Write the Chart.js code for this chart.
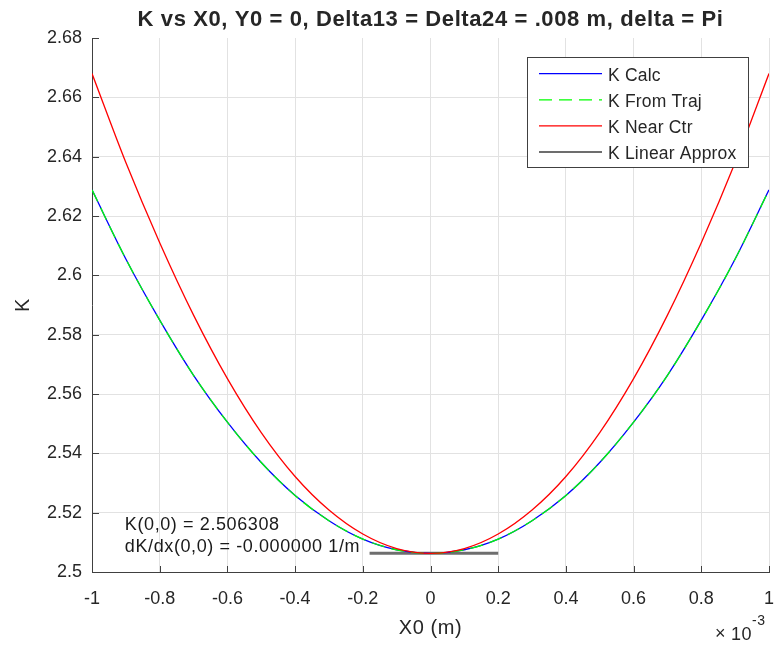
<!DOCTYPE html>
<html>
<head>
<meta charset="utf-8">
<script src="https://cdn.jsdelivr.net/npm/chart.js@4/dist/chart.umd.min.js"></script>
<style>
html,body{margin:0;padding:0;background:#fff;}
#wrap{width:774px;height:646px;position:relative;}
canvas{display:block;}
</style>
</head>
<body>
<div id="wrap"><canvas id="c" width="774" height="646"></canvas></div>
<script>
// X0 in units of 1e-3 m
const xValues = [-1.0,-0.9,-0.8,-0.7,-0.6,-0.5,-0.4,-0.3,-0.2,-0.1,0.0,0.1,0.2,0.3,0.4,0.5,0.6,0.7,0.8,0.9,1.0];
const kCalc = [2.6288,2.6055,2.5849,2.5663,2.5505,2.5369,2.5258,2.5173,2.5111,2.5075,2.5063,2.5075,2.5111,2.5173,2.5258,2.5369,2.5505,2.5663,2.5849,2.6055,2.6288];
const kFromTraj = [2.6288,2.6055,2.5849,2.5663,2.5505,2.5369,2.5258,2.5173,2.5111,2.5075,2.5063,2.5075,2.5111,2.5173,2.5258,2.5369,2.5505,2.5663,2.5849,2.6055,2.6288];
const kNearCtr = [2.6680,2.6380,2.6110,2.5866,2.5652,2.5470,2.5322,2.5209,2.5128,2.5079,2.5063,2.5079,2.5128,2.5209,2.5322,2.5470,2.5652,2.5866,2.6110,2.6380,2.6680];
const linX = [-0.18, 0.2];
const linK = [2.506308, 2.506308];
const seriesLabels = ['K Calc','K From Traj','K Near Ctr','K Linear Approx'];
const xTickValues = [-1,-0.8,-0.6,-0.4,-0.2,0,0.2,0.4,0.6,0.8,1];
const xTickLabels = ['-1','-0.8','-0.6','-0.4','-0.2','0','0.2','0.4','0.6','0.8','1'];
const yTickValues = [2.5,2.52,2.54,2.56,2.58,2.6,2.62,2.64,2.66,2.68];
const yTickLabels = ['2.5','2.52','2.54','2.56','2.58','2.6','2.62','2.64','2.66','2.68'];
const titleText = 'K vs X0, Y0 = 0, Delta13 = Delta24 = .008 m, delta = Pi';
const xAxisTitle = 'X0 (m)';
const yAxisTitle = 'K';
const noteLines = ['K(0,0) = 2.506308', 'dK/dx(0,0) = -0.000000 1/m'];

const FONT = "'Liberation Sans', Arial, sans-serif";
const AX = '#404040';
const TXT = '#262626';
const GRID = '#e2e2e2';

const pts = (xs, ys) => xs.map((x, i) => ({x: x, y: ys[i]}));

const legendColors = ['#0000ff', '#00ff00', '#ff0000', '#3c3c3c'];
const legendDash = [[], [13, 7], [], []];

const decor = {
  id: 'decor',
  beforeDraw(chart) {
    const ctx = chart.ctx;
    ctx.save();
    ctx.fillStyle = '#fff';
    ctx.fillRect(0, 0, chart.width, chart.height);
    ctx.restore();
  },
  beforeDatasetsDraw(chart) {
    const {ctx, chartArea: a, scales: {x, y}} = chart;
    ctx.save();
    ctx.strokeStyle = AX;
    ctx.lineWidth = 1;
    ctx.beginPath();
    xTickValues.forEach(v => {
      const px = Math.round(x.getPixelForValue(v)) + 0.5;
      ctx.moveTo(px, a.bottom);
      ctx.lineTo(px, a.bottom - 6);
    });
    yTickValues.forEach(v => {
      const py = Math.round(y.getPixelForValue(v)) + 0.5;
      ctx.moveTo(a.left, py);
      ctx.lineTo(a.left + 7, py);
    });
    ctx.stroke();
    ctx.restore();
  },
  afterDraw(chart) {
    const {ctx, chartArea: a, scales: {x, y}} = chart;
    ctx.save();
    ctx.fillStyle = TXT;
    try { ctx.letterSpacing = '0.6px'; } catch (e) {}
    // title
    ctx.font = 'bold 22px ' + FONT;
    ctx.textAlign = 'center';
    ctx.textBaseline = 'alphabetic';
    ctx.fillText(titleText, (a.left + a.right) / 2, 26);
    // x axis title
    ctx.font = '20px ' + FONT;
    ctx.fillText(xAxisTitle, (a.left + a.right) / 2, 634);
    // y axis title
    ctx.save();
    ctx.translate(29, (a.top + a.bottom) / 2);
    ctx.rotate(-Math.PI / 2);
    ctx.fillText(yAxisTitle, 0, 0);
    ctx.restore();
    // exponent
    ctx.textAlign = 'left';
    ctx.font = '18px ' + FONT;
    ctx.fillText('\u00d7', 715, 639);
    ctx.fillText('10', 731, 640);
    ctx.font = '14px ' + FONT;
    ctx.fillText('-3', 752, 625);
    // annotation text
    ctx.fillStyle = '#1a1a1a';
    ctx.font = '18px ' + FONT;
    ctx.fillText(noteLines[0], x.getPixelForValue(-0.9) - 1, 530);
    ctx.fillText(noteLines[1], x.getPixelForValue(-0.9) - 1, 551.5);
    // legend
    const lx = 527.5, ly = 57.5, lw = 221, lh = 110;
    ctx.fillStyle = '#fff';
    ctx.fillRect(lx, ly, lw, lh);
    ctx.strokeStyle = AX;
    ctx.lineWidth = 1;
    ctx.strokeRect(lx, ly, lw, lh);
    try { ctx.letterSpacing = '0.2px'; } catch (e) {}
    ctx.font = '17.5px ' + FONT;
    ctx.textAlign = 'left';
    chart.data.datasets.forEach((ds, i) => {
      const base = 80.7 + i * 26.1;
      const ry = base - 7;
      ctx.save();
      ctx.strokeStyle = legendColors[i];
      ctx.lineWidth = 1.3;
      ctx.setLineDash(legendDash[i]);
      ctx.beginPath();
      ctx.moveTo(539, ry);
      ctx.lineTo(602, ry);
      ctx.stroke();
      ctx.restore();
      ctx.fillStyle = TXT;
      ctx.fillText(ds.label, 608, base);
    });
    ctx.restore();
  }
};

new Chart(document.getElementById('c'), {
  type: 'line',
  data: {
    datasets: [
      {label: seriesLabels[0], data: pts(xValues, kCalc), borderColor: '#0000ff', borderWidth: 1.3, pointRadius: 0, cubicInterpolationMode: 'monotone', order: 4},
      {label: seriesLabels[1], data: pts(xValues, kFromTraj), borderColor: '#00ff00', borderWidth: 1.3, borderDash: [13, 7], pointRadius: 0, cubicInterpolationMode: 'monotone', order: 3},
      {label: seriesLabels[2], data: pts(xValues, kNearCtr), borderColor: '#ff0000', borderWidth: 1.3, pointRadius: 0, cubicInterpolationMode: 'monotone', order: 2},
      {label: seriesLabels[3], data: pts(linX, linK), borderColor: '#6e6e6e', borderWidth: 3, pointRadius: 0, order: 5}
    ]
  },
  options: {
    responsive: false,
    animation: false,
    devicePixelRatio: 1,
    events: [],
    layout: {padding: {left: 0, right: 5, top: 38, bottom: 0}},
    plugins: {legend: {display: false}, title: {display: false}, tooltip: {enabled: false}},
    scales: {
      x: {
        type: 'linear', min: -1, max: 1,
        afterBuildTicks: s => { s.ticks = xTickValues.map(v => ({value: v})); },
        afterFit: s => { s.height = 74; s.paddingLeft = 0; s.paddingRight = 0; },
        ticks: {
          font: {family: FONT, size: 18}, color: TXT, padding: 16, maxRotation: 0,
          callback: (v, i) => xTickLabels[i]
        },
        grid: {color: GRID, lineWidth: 1, drawTicks: false},
        border: {display: true, color: AX, width: 1}
      },
      y: {
        type: 'linear', min: 2.5, max: 2.68,
        afterBuildTicks: s => { s.ticks = yTickValues.map(v => ({value: v})); },
        afterFit: s => { s.width = 92; s.paddingTop = 0; s.paddingBottom = 0; },
        ticks: {
          font: {family: FONT, size: 18}, color: TXT, padding: 10,
          callback: (v, i) => yTickLabels[i]
        },
        grid: {
          color: c => (c.tick && Math.abs(c.tick.value - 2.68) < 1e-9) ? 'rgba(0,0,0,0)' : GRID,
          lineWidth: 1, drawTicks: false
        },
        border: {display: true, color: AX, width: 1}
      }
    }
  },
  plugins: [decor]
});
</script>
</body>
</html>
